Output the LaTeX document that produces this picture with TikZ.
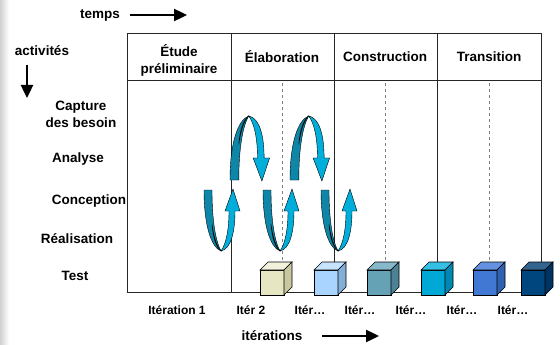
\documentclass[tikz,border=0pt]{standalone}
\usepackage{fontspec}
\setmainfont{Liberation Sans}
\usetikzlibrary{arrows.meta}

\definecolor{rubanfonce}{HTML}{0E86A8}
\definecolor{rubanclair}{HTML}{00AEDB}
% couleurs des cubes : face / dessus / cote
\definecolor{beigeF}{HTML}{E6E6C3}\definecolor{beigeD}{HTML}{F2F2DC}\definecolor{beigeC}{HTML}{C8C8A0}
\definecolor{cielF}{HTML}{A8D4FF}\definecolor{cielD}{HTML}{C6E3FF}\definecolor{cielC}{HTML}{84B0D8}
\definecolor{sarcF}{HTML}{66A2B6}\definecolor{sarcD}{HTML}{86B8CA}\definecolor{sarcC}{HTML}{4C8296}
\definecolor{cyanF}{HTML}{00A8D6}\definecolor{cyanD}{HTML}{34C0E4}\definecolor{cyanC}{HTML}{0088B2}
\definecolor{bleuF}{HTML}{4078D4}\definecolor{bleuD}{HTML}{6592E0}\definecolor{bleuC}{HTML}{3060B0}
\definecolor{marineF}{HTML}{00467E}\definecolor{marineD}{HTML}{32648E}\definecolor{marineC}{HTML}{003262}

\tikzset{
  % ruban en U (queue en haut a gauche, fleche a droite)
  pics/boucle/.style={code={
    \draw[fill=rubanfonce, line width=0.4pt] (0,0) -- (8,0) .. controls (8,32) and (12,52) .. (17,61)
      .. controls (7,57) and (0,35) .. (0,0) -- cycle;
    \draw[fill=rubanclair, line width=0.4pt] (8,34) .. controls (10,48) and (13,57) .. (17,61)
      .. controls (13,58) and (9,50) .. (8,34) -- cycle;
    \draw[fill=rubanclair, line width=0.4pt] (17,61) .. controls (27,59) and (31,42) .. (31,21)
      -- (36,21) -- (29,-1) -- (21,21) -- (25,21) .. controls (25,40) and (22,54) .. (17,61) -- cycle;
  }},
  % cube : face, dessus, cote
  pics/cube/.style={code={
    \draw[fill=#1F, line width=0.6pt] (0,0) rectangle (24,-25);
    \draw[fill=#1D, line width=0.6pt] (0,-25) -- (8,-33) -- (32,-33) -- (24,-25) -- cycle;
    \draw[fill=#1C, line width=0.6pt] (24,0) -- (32,-8) -- (32,-33) -- (24,-25) -- cycle;
  }}
}

\begin{document}
\begin{tikzpicture}[x=1pt,y=-1pt,
    titre/.style={font=\fontsize{13.5}{17}\selectfont\bfseries, align=center, inner sep=0pt},
    iter/.style={font=\fontsize{12}{14}\selectfont\bfseries, inner sep=0pt},
    fleche/.style={line width=2.4pt, -{Triangle[length=13pt,width=12pt]}},
    trait/.style={line width=0.8pt, black!85},
    pointille/.style={gray, dashed, line width=0.5pt}]
  \useasboundingbox (0,0) rectangle (560,345);
  \shade[left color=black!18, right color=white] (0,0) rectangle (9,345);

  % axes
  \node[titre] (temps) at (100,15) {temps};
  \coordinate (tempsdeb) at (130,15);
  \coordinate (tempsfin) at (187,15);
  \draw[fleche] (tempsdeb) -- (tempsfin);
  \node[titre] (activites) at (42,51) {activités};
  \coordinate (actdeb) at (27,65);
  \coordinate (actfin) at (27,98);
  \draw[fleche] (actdeb) -- (actfin);
  \node[titre] (iterations) at (272,336) {itérations};
  \coordinate (iterdeb) at (322,336);
  \coordinate (iterfin) at (379,336);
  \draw[fleche] (iterdeb) -- (iterfin);

  % tableau des phases
  \draw[trait] (127,33) rectangle (541,80);
  \draw[trait] (127,80) -- (127,292) -- (521,292);
  \draw[trait] (231,33) -- (231,292);
  \draw[trait] (334,33) -- (334,265);
  \draw[trait] (437,33) -- (437,265);
  \draw[trait] (541,80) -- (541,265);
  \foreach \x in {282,385,489}
    \draw[pointille] (\x,83) -- (\x,265);

  \node[titre] (etude) at (179,60) {Étude\\préliminaire};
  \node[titre] (elab) at (282,57) {Élaboration};
  \node[titre] (constr) at (385,57) {Construction};
  \node[titre] (trans) at (489,57) {Transition};

  % activites
  \node[titre] (capture) at (81,114) {Capture\\des besoin};
  \node[titre] (analyse) at (78,159) {Analyse};
  \node[titre] (conception) at (89,201) {Conception};
  \node[titre] (realisation) at (77,239) {Réalisation};
  \node[titre] (test) at (75,276) {Test};

  % boucles
  \foreach \x in {204,263,321}
    \pic at (\x,190) {boucle};
  \foreach \x in {230,290}
    \pic[yscale=-1.05, xscale=1.1] at (\x,180) {boucle};

  % iterations
  \foreach \x/\c in {260/beige,314/ciel,367/sarc,421/cyan,473/bleu,521/marine}
    \pic at (\x,295) {cube=\c};
  \node[iter] (it1) at (177,310) {Itération 1};
  \node[iter] (it2) at (251,310) {Itér 2};
  \foreach \x/\n in {310/3,360/4,411/5,462/6,513/7}
    \node[iter] (it\n) at (\x,310) {Itér…};
\end{tikzpicture}
\end{document}
